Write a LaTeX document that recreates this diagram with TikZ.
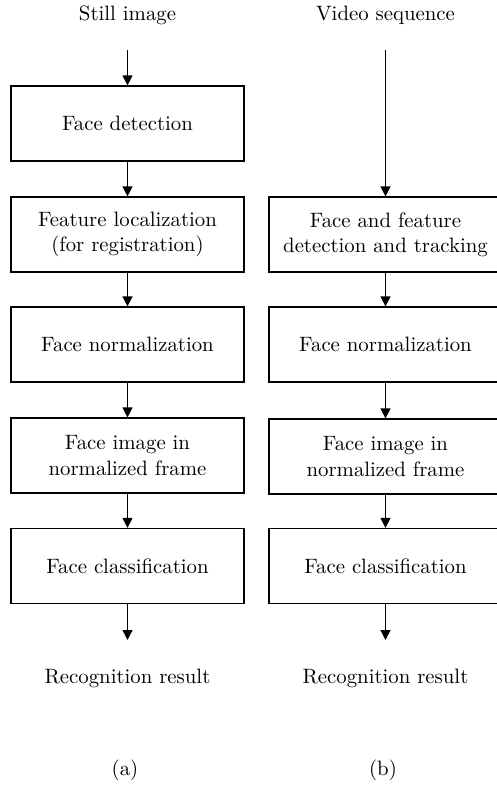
\documentclass[tikz,border=0pt]{standalone}
\usetikzlibrary{arrows.meta}
\begin{document}
\begin{tikzpicture}[x=0.5pt,y=-0.5pt,
  font=\fontsize{10.4}{12.6}\selectfont,
  stage/.style={draw, line width=0.6pt, minimum width=116.5pt, minimum height=37.5pt,
    inner sep=0pt, align=center},
  flow/.style={line width=0.6pt, -{Triangle[length=5pt,width=5pt]}},
  caption/.style={inner sep=0pt}]
\useasboundingbox (0,0) rectangle (497,788);

% (a) still image pipeline
\node[caption] (ta) at (127.5,15) {Still image};
\coordinate (sa) at (127.5,50);
\node[stage] (a1) at (127.5,123.5) {Face detection};
\node[stage] (a2) at (127.5,234.5) {Feature localization\\(for registration)};
\node[stage] (a3) at (127.5,344.5) {Face normalization};
\node[stage] (a4) at (127.5,455.5) {Face image in\\normalized frame};
\node[stage] (a5) at (127.5,566) {Face classification};
\coordinate (ea) at (127.5,640);
\node[caption] (ra) at (127.5,678) {Recognition result};
\node[caption] (la) at (125,770) {(a)};

\draw[flow] (sa) -- (a1);
\draw[flow] (a1) -- (a2);
\draw[flow] (a2) -- (a3);
\draw[flow] (a3) -- (a4);
\draw[flow] (a4) -- (a5);
\draw[flow] (a5) -- (ea);

% (b) video sequence pipeline
\node[caption] (tb) at (385.5,15) {Video sequence};
\coordinate (sb) at (385.5,50);
\node[stage] (b2) at (385.5,234.5) {Face and feature\\detection and tracking};
\node[stage] (b3) at (385.5,344.5) {Face normalization};
\node[stage] (b4) at (385.5,456.5) {Face image in\\normalized frame};
\node[stage] (b5) at (385.5,566) {Face classification};
\coordinate (eb) at (385.5,640);
\node[caption] (rb) at (385.5,678) {Recognition result};
\node[caption] (lb) at (383,770) {(b)};

\draw[flow] (sb) -- (b2);
\draw[flow] (b2) -- (b3);
\draw[flow] (b3) -- (b4);
\draw[flow] (b4) -- (b5);
\draw[flow] (b5) -- (eb);
\end{tikzpicture}
\end{document}
